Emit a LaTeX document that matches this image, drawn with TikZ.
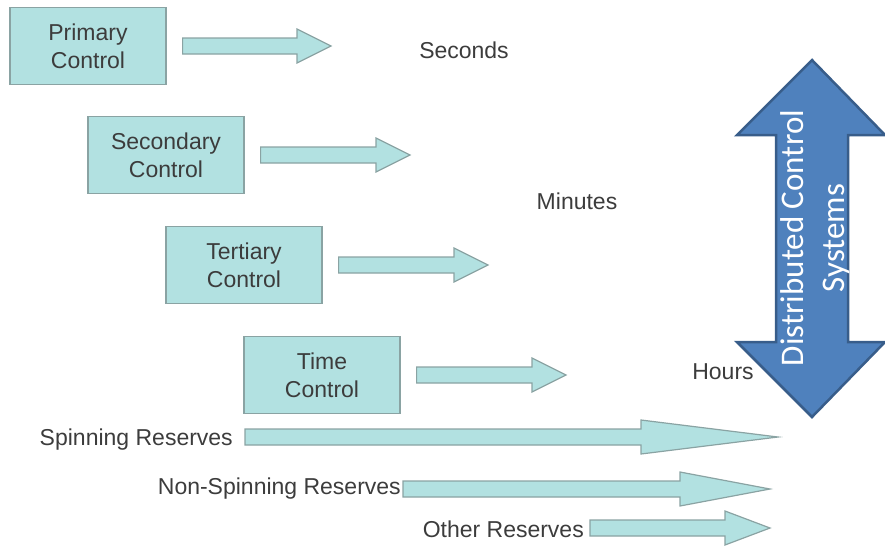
\documentclass[tikz,border=0pt]{standalone}
\usepackage{fontspec}
\setmainfont{Liberation Sans}
\newfontfamily\calfont{Carlito}
\usetikzlibrary{calc,positioning}

\definecolor{boxfill}{HTML}{B2E1E1}
\definecolor{boxline}{HTML}{8AA3A3}
\definecolor{txtgray}{HTML}{3C3C3C}
\definecolor{dcsfill}{HTML}{4F81BD}
\definecolor{dcsline}{HTML}{385D8A}

\tikzset{
  ctrlbox/.style={draw=boxline, fill=boxfill, line width=1.2pt, minimum width=156pt,
    minimum height=77pt, align=center, text=txtgray, font=\fontsize{23}{28}\selectfont},
  lbl/.style={text=txtgray, font=\fontsize{23}{28}\selectfont, inner sep=2pt},
  blockarr/.style={draw=boxline, fill=boxfill, line width=1.2pt, line join=miter}
}

% block arrow from coordinate #1 to tip #2, head length #3
\newcommand\blockarrow[3]{%
  \path[blockarr] let \p1=(#1), \p2=(#2) in
    (\x1,\y1+8pt) -- (\x2-#3pt,\y1+8pt) -- (\x2-#3pt,\y1+17pt) -- (\x2,\y1)
    -- (\x2-#3pt,\y1-17pt) -- (\x2-#3pt,\y1-8pt) -- (\x1,\y1-8pt) -- cycle;}

\begin{document}
\begin{tikzpicture}[x=1pt,y=-1pt]
\useasboundingbox (0,0) rectangle (885,547);

% control levels
\node[ctrlbox] (prim) at (88,46)  {Primary\\Control};
\node[ctrlbox] (sec)  at (166,155) {Secondary\\Control};
\node[ctrlbox] (ter)  at (244,265) {Tertiary\\Control};
\node[ctrlbox] (time) at (322,375) {Time\\Control};

\coordinate (prim-t) at (331,46);
\coordinate (sec-t)  at (410,155);
\coordinate (ter-t)  at (488,265);
\coordinate (time-t) at (566,375);
\blockarrow{$(prim.east)+(16,0)$}{prim-t}{34}
\blockarrow{$(sec.east)+(16,0)$}{sec-t}{34}
\blockarrow{$(ter.east)+(16,0)$}{ter-t}{34}
\blockarrow{$(time.east)+(16,0)$}{time-t}{34}

\node[lbl] (secs) at (464,50)  {Seconds};
\node[lbl] (mins) at (577,201) {Minutes};
\node[lbl] (hrs)  at (723,372) {Hours};

% reserves
\coordinate (spin-s)  at (245,437);  \coordinate (spin-t)  at (778,437);
\coordinate (nspin-s) at (403,489);  \coordinate (nspin-t) at (770,489);
\coordinate (oth-s)   at (590,528);  \coordinate (oth-t)   at (770,528);
\blockarrow{spin-s}{spin-t}{137}
\blockarrow{nspin-s}{nspin-t}{90}
\blockarrow{oth-s}{oth-t}{45}
\node[lbl, left=10pt of spin-s, yshift=-3pt] (spin) {Spinning Reserves};
\node[lbl, left=0pt of nspin-s] (nspin) {Non-Spinning Reserves};
\node[lbl, left=4pt of oth-s, yshift=-1pt] (oth) {Other Reserves};

% distributed control systems
\path[draw=dcsline, fill=dcsfill, line width=2.5pt, line join=miter]
  (812,60) -- (885,135) -- (848,135) -- (848,342) -- (885,342) -- (812,417)
  -- (737,342) -- (776,342) -- (776,135) -- (737,135) -- cycle;
\node[rotate=90, text=white, align=center, font=\calfont\fontsize{33}{41}\selectfont]
  (dcs) at (815,238) {Distributed Control\\Systems};
\end{tikzpicture}
\end{document}
